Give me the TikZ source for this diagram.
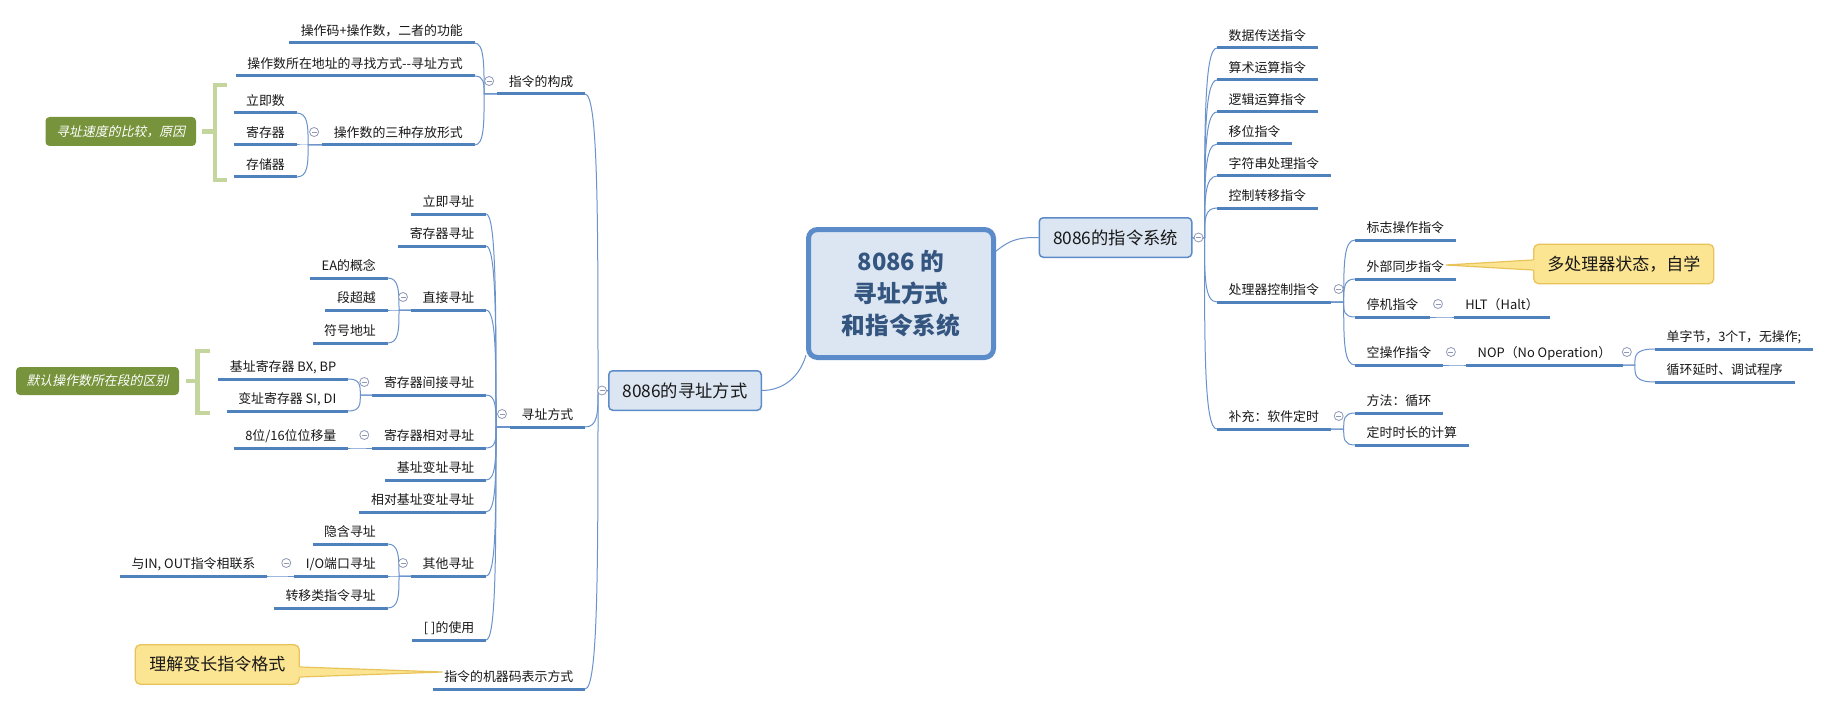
\documentclass[tikz,border=0pt]{standalone}
\usepackage{fontspec}
\setmainfont{Noto Sans CJK SC}
\newfontfamily\itfont{Noto Sans CJK SC}[FakeSlant=0.2]
\usetikzlibrary{calc}
\definecolor{ulc}{HTML}{4F81BD}
\definecolor{cnc}{HTML}{6A93CC}
\definecolor{boxf}{HTML}{DCE6F2}
\definecolor{boxd}{HTML}{5B8BC9}
\definecolor{titc}{HTML}{34557F}
\definecolor{greenf}{HTML}{77933C}
\definecolor{brk}{HTML}{C4D59E}
\definecolor{yelf}{HTML}{FCE592}
\definecolor{yeld}{HTML}{E8C35A}
\definecolor{foldc}{HTML}{9098B8}
\definecolor{txt}{HTML}{181818}
\newcommand\lconn[3]{\draw[conn] let \p1=(#1), \p2=(#2) in (\p1) -- ({\x1-#3pt},\y1) .. controls ({\x1-#3pt},{0.4*\y1+0.6*\y2}) and ({\x1-#3pt},\y2) .. (\p2);}
\newcommand\rconn[3]{\draw[conn] let \p1=(#1), \p2=(#2) in (\p1) -- ({\x1+#3pt},\y1) .. controls ({\x1+#3pt},{0.4*\y1+0.6*\y2}) and ({\x1+#3pt},\y2) .. (\p2);}
\tikzset{
  uline/.style={draw=ulc, line width=3pt},
  conn/.style={draw=cnc, line width=1pt},
  topic/.style={font=\fontsize{12.9}{15}\selectfont, text=txt, inner xsep=11.5pt, inner ysep=4pt, text height=11pt, text depth=3pt,
    append after command={(\tikzlastnode.south west) edge[uline] (\tikzlastnode.south east)}},
  L/.style={topic, anchor=south east},
  R/.style={topic, anchor=south west},
  mainbox/.style={draw=boxd, fill=boxf, line width=1.5pt, rounded corners=4pt, minimum width=152.5pt, minimum height=39.5pt, inner sep=0pt, text=txt, font=\fontsize{17.3}{20}\selectfont},
  fold/.style={circle, draw=foldc, fill=white, line width=0.8pt, minimum size=9pt, inner sep=0pt,
    path picture={\draw[foldc, line width=0.8pt] ([xshift=-2.5pt]path picture bounding box.center) -- ([xshift=2.5pt]path picture bounding box.center);}},
  note/.style={fill=greenf, rounded corners=4pt, inner sep=0pt, text=white, font=\itfont\fontsize{12.9}{15}\selectfont},
  callout/.style={fill=yelf, draw=yeld, line width=1.3pt, rounded corners=5pt, inner sep=0pt, text=txt, font=\fontsize{17}{20}\selectfont, minimum height=39.5pt},
  bracket/.style={draw=brk, line width=4.5pt},
}
\begin{document}
\begin{tikzpicture}[x=1pt, y=-1pt]
\fill[white] (0,0) rectangle (1840,706);
\useasboundingbox (0,0) rectangle (1840,706);

% central and main branches
\node[draw=boxd, fill=boxf, line width=5pt, rounded corners=9pt, minimum width=185pt, minimum height=128pt, inner sep=0pt, align=center, text=titc, font=\fontsize{23.7}{32}\selectfont\bfseries] (c) at (901,293.5) {8086 的\\寻址方式\\和指令系统};
\node[mainbox] (l) at (685,390.5) {8086的寻址方式};
\node[mainbox] (r) at (1115.5,237.5) {8086的指令系统};
\draw[conn] (c.213) .. controls (798,382) and (778,390.5) .. (l.east);
\draw[conn] (c.24) .. controls (1012,238) and (1022,237.5) .. (r.west);

% ---------------- left side ----------------
\node[L] (gc) at (585,94) {指令的构成};
\node[L] (xz) at (585,427) {寻址方式};
\node[L] (jq) at (585,689) {指令的机器码表示方式};

\node[L] (gc1) at (474.5,43) {操作码+操作数，二者的功能};
\node[L] (gc2) at (474.5,76) {操作数所在地址的寻找方式-{}-寻址方式};
\node[L] (gc3) at (474.5,145) {操作数的三种存放形式};
\node[L] (s1) at (296.5,113) {立即数};
\node[L] (s2) at (296.5,145) {寄存器};
\node[L] (s3) at (296.5,177) {存储器};

\node[L] (x1) at (486,214) {立即寻址};
\node[L] (x2) at (486,246) {寄存器寻址};
\node[L] (x3) at (486,310) {直接寻址};
\node[L] (x4) at (486,395) {寄存器间接寻址};
\node[L] (x5) at (486,448) {寄存器相对寻址};
\node[L] (x6) at (486,480) {基址变址寻址};
\node[L] (x7) at (486,512) {相对基址变址寻址};
\node[L] (x8) at (486,576) {其他寻址};
\node[L] (x9) at (486,640) {[ ]的使用};

\node[L] (d1) at (387.5,278) {EA的概念};
\node[L] (d2) at (387.5,310) {段超越};
\node[L] (d3) at (387.5,343) {符号地址};
\node[L] (j1) at (348,379) {基址寄存器 BX, BP};
\node[L] (j2) at (348,411) {变址寄存器 SI, DI};
\node[L] (w1) at (348,448) {8位/16位位移量};
\node[L] (q1) at (387.5,544) {隐含寻址};
\node[L] (io) at (387.5,576) {I/O端口寻址};
\node[L] (q3) at (387.5,608) {转移类指令寻址};
\node[L] (in) at (267,576) {与IN, OUT指令相联系};

\lconn{l.west}{gc.south east}{10}
\lconn{l.west}{xz.south east}{10}
\lconn{l.west}{jq.south east}{10}
\lconn{gc.south west}{gc1.south east}{13}
\lconn{gc.south west}{gc2.south east}{13}
\lconn{gc.south west}{gc3.south east}{13}
\lconn{gc3.south west}{s1.south east}{14}
\lconn{gc3.south west}{s2.south east}{14}
\lconn{gc3.south west}{s3.south east}{14}
\foreach \k in {x1,x2,x3,x4,x5,x6,x7,x8,x9} {\lconn{xz.south west}{\k.south east}{14}}
\lconn{x3.south west}{d1.south east}{12}
\lconn{x3.south west}{d2.south east}{12}
\lconn{x3.south west}{d3.south east}{12}
\lconn{x4.south west}{j1.south east}{12}
\lconn{x4.south west}{j2.south east}{12}
\lconn{x5.south west}{w1.south east}{12}
\lconn{x8.south west}{q1.south east}{12}
\lconn{x8.south west}{io.south east}{12}
\lconn{x8.south west}{q3.south east}{12}
\lconn{io.south west}{in.south east}{12}

\foreach \p in {gc,gc3,xz,x3,x4,x5,x8,io} {\node[fold] at ([shift={(-8,-13)}]\p.south west) {};}
\node[fold] (fl) at ([xshift=-6pt]l.west) {};

% notes and brackets
\node[note, minimum width=150.5pt, minimum height=29pt] (g1) at (120.75,131.5) {寻址速度的比较，原因};
\draw[bracket] (227,85) -- (215,85) -- (215,180) -- (227,180);
\draw[bracket] ($(g1.east)+(6,0)$) -- (215,131.5);
\node[note, minimum width=163pt, minimum height=28pt] (g2) at (97.5,381) {默认操作数所在段的区别};
\draw[bracket] (209.5,351) -- (197.4,351) -- (197.4,413) -- (209.5,413);
\draw[bracket] ($(g2.east)+(7,0)$) -- (197.4,381);

% callout left
\node[callout, minimum width=164pt] (cl1) at (217.25,664.5) {理解变长指令格式};
\coordinate (t1) at ($(jq.south west)+(10,-17)$);
\fill[yelf] ($(cl1.east)+(-1.5,2.5)$) -- (t1) -- ($(cl1.east)+(-1.5,12.5)$) -- cycle;
\draw[yeld, line width=1.2pt] ($(cl1.east)+(0.3,2.5)$) -- (t1) -- ($(cl1.east)+(0.3,12.5)$);

% ---------------- right side ----------------
\node[R] (r1) at (1217,48) {数据传送指令};
\node[R] (r2) at (1217,80) {算术运算指令};
\node[R] (r3) at (1217,112) {逻辑运算指令};
\node[R] (r4) at (1217,144) {移位指令};
\node[R] (r5) at (1217,176) {字符串处理指令};
\node[R] (r6) at (1217,208) {控制转移指令};
\node[R] (pc) at (1217,302) {处理器控制指令};
\node[R] (bc) at (1217,429) {补充：软件定时};

\node[R] (p1) at (1355,240) {标志操作指令};
\node[R] (wb) at (1355,279) {外部同步指令};
\node[R] (tj) at (1355,317) {停机指令};
\node[R] (kc) at (1355,365) {空操作指令};
\node[R] (hlt) at (1453.6,317) {HLT（Halt）};
\node[R] (nop) at (1466,365) {NOP（No Operation）};
\node[R] (n1) at (1655,349) {单字节，3个T，无操作;};
\node[R] (n2) at (1655,382) {循环延时、调试程序};
\node[R] (b1) at (1355,413) {方法：循环};
\node[R] (b2) at (1355,445) {定时时长的计算};

\foreach \k in {r1,r2,r3,r4,r5,r6,pc,bc} {\rconn{r.east}{\k.south west}{12}}
\foreach \k in {p1,wb,tj,kc} {\rconn{pc.south east}{\k.south west}{13}}
\rconn{tj.south east}{hlt.south west}{12}
\rconn{kc.south east}{nop.south west}{12}
\rconn{nop.south east}{n1.south west}{12}
\rconn{nop.south east}{n2.south west}{12}
\rconn{bc.south east}{b1.south west}{13}
\rconn{bc.south east}{b2.south west}{13}

\foreach \p in {pc,bc,tj,kc} {\node[fold] at ([shift={(8,-13)}]\p.south east) {};}
\node[fold] at ([shift={(4,-13)}]nop.south east) {};
\node[fold] (fr) at ([xshift=6pt]r.east) {};

% callout right
\node[callout, minimum width=180pt] (cl2) at (1623.75,264) {多处理器状态，自学};
\coordinate (t2) at ($(wb.south east)+(-10,-14)$);
\fill[yelf] ($(cl2.west)+(1.5,-4)$) -- (t2) -- ($(cl2.west)+(1.5,6)$) -- cycle;
\draw[yeld, line width=1.2pt] ($(cl2.west)+(-0.3,-4)$) -- (t2) -- ($(cl2.west)+(-0.3,6)$);
\end{tikzpicture}
\end{document}
